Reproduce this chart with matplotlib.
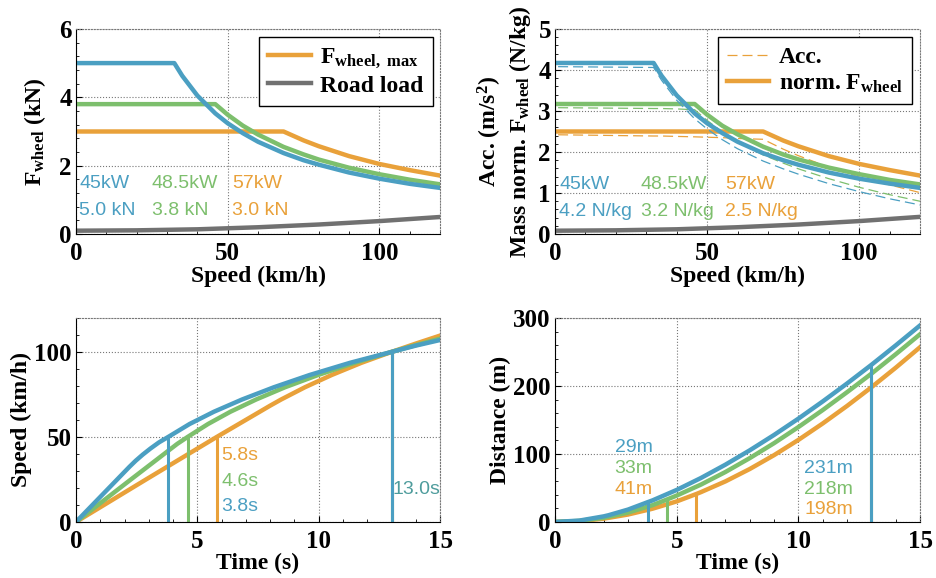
import matplotlib
matplotlib.use("Agg")
import matplotlib.pyplot as plt
from matplotlib.ticker import AutoMinorLocator

plt.rcParams['font.family'] = ['Liberation Serif', 'DejaVu Serif']
plt.rcParams['font.weight'] = 'bold'
plt.rcParams['mathtext.fontset'] = 'custom'
plt.rcParams['mathtext.rm'] = 'Liberation Serif:bold'
plt.rcParams['mathtext.it'] = 'Liberation Serif:bold'
plt.rcParams['mathtext.bf'] = 'Liberation Serif:bold'

BLUE = '#4b9fc2'
GREEN = '#7dbf6d'
ORANGE = '#e9a13a'
GRAY = '#717171'
SANS = ['Liberation Sans', 'DejaVu Sans']

# --- force at wheel vs speed (kN) ---
speed = [1, 32.4, 35, 40, 45.9, 50, 55, 60, 68.4, 75, 80, 90, 100, 110, 120]
f_45 = [5.0, 5.0, 4.63, 4.05, 3.53, 3.24, 2.95, 2.70, 2.37, 2.16, 2.03, 1.80, 1.62, 1.47, 1.35]
f_485 = [3.8, 3.8, 3.8, 3.8, 3.8, 3.49, 3.17, 2.91, 2.55, 2.33, 2.18, 1.94, 1.75, 1.59, 1.455]
f_57 = [3.0, 3.0, 3.0, 3.0, 3.0, 3.0, 3.0, 3.0, 3.0, 2.74, 2.57, 2.28, 2.05, 1.87, 1.71]
road_speed = [1, 20, 40, 60, 80, 100, 120]
road_load = [0.10, 0.11, 0.14, 0.20, 0.28, 0.38, 0.50]

# --- mass normalised force (N/kg) and acceleration (m/s2) ---
norm_45 = [4.17, 4.17, 3.86, 3.38, 2.94, 2.70, 2.46, 2.25, 1.97, 1.80, 1.69, 1.50, 1.35, 1.23, 1.125]
norm_485 = [3.17, 3.17, 3.17, 3.17, 3.17, 2.91, 2.64, 2.43, 2.13, 1.94, 1.82, 1.62, 1.46, 1.32, 1.21]
norm_57 = [2.5, 2.5, 2.5, 2.5, 2.5, 2.5, 2.5, 2.5, 2.5, 2.28, 2.14, 1.90, 1.71, 1.56, 1.425]
acc_45 = [4.08, 4.06, 3.75, 3.26, 2.81, 2.56, 2.30, 2.08, 1.78, 1.59, 1.46, 1.23, 1.035, 0.86, 0.71]
acc_485 = [3.08, 3.06, 3.06, 3.05, 3.03, 2.77, 2.49, 2.26, 1.93, 1.73, 1.59, 1.35, 1.14, 0.96, 0.80]
acc_57 = [2.42, 2.39, 2.39, 2.38, 2.37, 2.36, 2.35, 2.33, 2.31, 2.07, 1.91, 1.63, 1.39, 1.20, 1.01]
road_norm = [0.083, 0.092, 0.117, 0.167, 0.233, 0.317, 0.42]

# --- speed vs time ---
t_v45 = [0, 2.2, 2.46, 2.75, 3.07, 3.42, 3.8, 4.68, 5.68, 6.84, 8.15, 9.62, 11.29, 13.0, 14.0, 15.0]
v_45 = [0, 32.4, 36.0, 39.6, 43.2, 46.8, 50.0, 57.6, 64.8, 72.0, 79.2, 86.4, 93.6, 100.0, 103.7, 107.0]
t_v485 = [0, 2.0, 4.17, 4.6, 5.44, 6.36, 7.42, 8.61, 9.97, 11.48, 13.0, 14.0, 15.0]
v_485 = [0, 22.1, 45.9, 50.0, 57.6, 64.8, 72.0, 79.2, 86.4, 93.6, 100.0, 104.0, 107.8]
t_v57 = [0, 2.9, 5.8, 8.0, 8.45, 9.43, 10.53, 11.76, 13.0, 14.0, 15.0]
v_57 = [0, 25.1, 50.0, 68.4, 72.0, 79.2, 86.4, 93.6, 100.0, 104.9, 109.6]

# --- distance vs time ---
t_d45 = [0, 1, 2, 2.2, 3, 3.8, 4, 5, 6, 7, 8, 9, 10, 11, 12, 13, 14, 15]
d_45 = [0, 2.0, 8.2, 9.9, 18.2, 29, 31.6, 47.1, 64.7, 84.2, 105.3, 127.9, 151.9, 177.2, 203.6, 231, 259.6, 289]
t_d485 = [0, 1, 2, 3, 4, 4.6, 5, 6, 7, 8, 9, 10, 11, 12, 13, 14, 15]
d_485 = [0, 1.5, 6.1, 13.8, 24.6, 33, 38.8, 55, 73.4, 93.8, 115.8, 139.5, 164.5, 190.8, 218, 246.6, 276]
t_d57 = [0, 1, 2, 3, 4, 5, 5.8, 6, 7, 8, 9, 10, 11, 12, 13, 14, 15]
d_57 = [0, 1.2, 4.8, 10.9, 19.4, 30.2, 41, 43.9, 59.6, 77.8, 98.2, 120.6, 144.8, 170.6, 198, 226.8, 257]

# 0-50 and 0-100 markers
t50 = [3.8, 4.6, 5.8]
t100 = 13.0
dist50 = [29, 33, 41]
dist100 = [231, 218, 198]
colors = [BLUE, GREEN, ORANGE]
power_lbl = ['45kW', '48.5kW', '57kW']
force_lbl = ['5.0 kN', '3.8 kN', '3.0 kN']
spec_lbl = ['4.2 N/kg', '3.2 N/kg', '2.5 N/kg']

TICK = 18
LABEL = 17
ANNOT = 14

fig = plt.figure(figsize=(9.36, 5.78), dpi=100)
ax1 = fig.add_axes([0.0812, 0.595, 0.389, 0.355])
ax2 = fig.add_axes([0.593, 0.595, 0.390, 0.355])
ax3 = fig.add_axes([0.0812, 0.097, 0.389, 0.353])
ax4 = fig.add_axes([0.593, 0.097, 0.390, 0.353])


def style(ax):
    ax.grid(True, linestyle=':', color='#777777', linewidth=0.8)
    for s in ['top', 'right']:
        ax.spines[s].set_linestyle(':')
        ax.spines[s].set_color('#777777')
        ax.spines[s].set_linewidth(0.8)
    ax.tick_params(direction='in', length=4, labelsize=TICK, top=False, right=False)
    ax.tick_params(axis='x', pad=6)
    ax.tick_params(axis='y', pad=3)
    ax.tick_params(which='minor', direction='in', length=2)
    ax.xaxis.set_minor_locator(AutoMinorLocator(5))
    ax.yaxis.set_minor_locator(AutoMinorLocator(5))
    for lab in ax.get_xticklabels() + ax.get_yticklabels():
        lab.set_fontweight('bold')
    ax.set_axisbelow(True)


def annot(ax, x, y, s, c):
    ax.text(x, y, s, color=c, fontsize=ANNOT, family=SANS, fontweight='normal', va='center')


leg_kw = dict(loc='upper right', borderaxespad=0, fancybox=False, edgecolor='black',
              framealpha=1, prop={'size': 17, 'weight': 'bold'}, handlelength=1.8,
              handletextpad=0.4, labelspacing=0.2, borderpad=0.4)

# top left
ax1.plot(road_speed, road_load, color=GRAY, lw=3.2, label='Road load')
ax1.plot(speed, f_57, color=ORANGE, lw=3.2, label=r'$\mathrm{F}_{\mathrm{wheel,\ max}}$')
ax1.plot(speed, f_485, color=GREEN, lw=3.2)
ax1.plot(speed, f_45, color=BLUE, lw=3.2)
ax1.set_xlim(0, 120)
ax1.set_ylim(0, 6)
ax1.set_xticks([0, 50, 100])
ax1.set_yticks([0, 2, 4, 6])
ax1.set_xlabel('Speed (km/h)', fontsize=LABEL, fontweight='bold', labelpad=0)
ax1.set_ylabel(r'$\mathrm{F}_{\mathrm{wheel}}$ (kN)', fontsize=LABEL, fontweight='bold', labelpad=8)
h, l = ax1.get_legend_handles_labels()
ax1.legend([h[1], h[0]], [l[1], l[0]], bbox_to_anchor=(0.981, 0.961), **leg_kw)
for x, c, p, f in zip([1, 25, 51.5], colors, power_lbl, force_lbl):
    annot(ax1, x, 1.49, p, c)
    annot(ax1, x, 0.68, f, c)
style(ax1)

# top right
ax2.plot(road_speed, road_norm, color=GRAY, lw=3.2)
ax2.plot(speed, acc_57, color=ORANGE, lw=0.9, dashes=(8, 4), label='Acc.')
ax2.plot(speed, norm_57, color=ORANGE, lw=3.2, label=r'norm. $\mathrm{F}_{\mathrm{wheel}}$')
ax2.plot(speed, acc_485, color=GREEN, lw=0.9, dashes=(8, 4))
ax2.plot(speed, norm_485, color=GREEN, lw=3.2)
ax2.plot(speed, acc_45, color=BLUE, lw=0.9, dashes=(8, 4))
ax2.plot(speed, norm_45, color=BLUE, lw=3.2)
ax2.set_xlim(0, 120)
ax2.set_ylim(0, 5)
ax2.set_xticks([0, 50, 100])
ax2.set_yticks([0, 1, 2, 3, 4, 5])
ax2.set_xlabel('Speed (km/h)', fontsize=LABEL, fontweight='bold', labelpad=0)
ax2.set_ylabel('Acc. (m/s$^2$)\nMass norm. $\\mathrm{F}_{\\mathrm{wheel}}$ (N/kg)',
               fontsize=LABEL, fontweight='bold', labelpad=4, linespacing=1.15)
ax2.legend(bbox_to_anchor=(0.978, 0.961), **leg_kw)
for x, c, p, s in zip([1.3, 28.2, 56], colors, power_lbl, spec_lbl):
    annot(ax2, x, 1.2, p, c)
    annot(ax2, x, 0.56, s, c)
style(ax2)

# bottom left
ax3.plot(t_v57, v_57, color=ORANGE, lw=3.2)
ax3.plot(t_v485, v_485, color=GREEN, lw=3.2)
ax3.plot(t_v45, v_45, color=BLUE, lw=3.2)
for t, c in zip(t50, colors):
    ax3.plot([t, t], [0, 50], color=c, lw=2.2)
for c in colors[::-1]:
    ax3.plot([t100, t100], [0, 100], color=c, lw=2.2)
for y, c, t in zip([9, 23.5, 39], colors, t50):
    annot(ax3, 6.0, y, '%.1fs' % t, c)
annot(ax3, 13.02, 19, '%.1fs' % t100, '#4e9c9c')
ax3.set_xlim(0, 15)
ax3.set_ylim(0, 120)
ax3.set_xticks([0, 5, 10, 15])
ax3.set_yticks([0, 50, 100])
ax3.set_xlabel('Time (s)', fontsize=LABEL, fontweight='bold', labelpad=0)
ax3.set_ylabel('Speed (km/h)', fontsize=LABEL, fontweight='bold', labelpad=2)
style(ax3)

# bottom right
ax4.plot(t_d57, d_57, color=ORANGE, lw=3.2)
ax4.plot(t_d485, d_485, color=GREEN, lw=3.2)
ax4.plot(t_d45, d_45, color=BLUE, lw=3.2)
for t, d, c in zip(t50, dist50, colors):
    ax4.plot([t, t], [0, d], color=c, lw=2.2)
for d, c in zip(dist100[::-1], colors[::-1]):
    ax4.plot([t100, t100], [0, d], color=c, lw=2.2)
for y, c, d in zip([109, 78, 47], colors, dist50):
    annot(ax4, 2.45, y, '%dm' % d, c)
for y, c, d in zip([78, 48, 18], colors, dist100):
    annot(ax4, 10.23, y, '%dm' % d, c)
ax4.set_xlim(0, 15)
ax4.set_ylim(0, 300)
ax4.set_xticks([0, 5, 10, 15])
ax4.set_yticks([0, 100, 200, 300])
ax4.set_xlabel('Time (s)', fontsize=LABEL, fontweight='bold', labelpad=0)
ax4.set_ylabel('Distance (m)', fontsize=LABEL, fontweight='bold', labelpad=2)
style(ax4)

fig.savefig('out.png', dpi=100)
